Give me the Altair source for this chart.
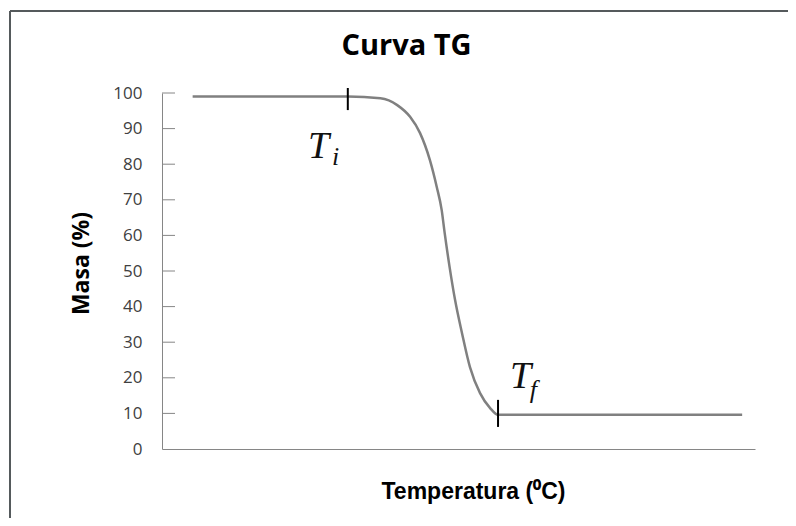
import altair as alt
import pandas as pd

# Curve data (temperature in arbitrary °C units, mass in %)
temp = [31, 188, 221, 238, 251, 261, 271, 278, 283, 286, 291, 296.5, 303.5, 311.6, 321.8, 332, 340, 587]
masa = [99.0, 99.0, 98.5, 96.6, 93.3, 88.8, 81.2, 73.6, 67.1, 60.7, 51.1, 41.9, 32.6, 23.0, 15.7, 11.5, 9.6, 9.6]

# Markers Ti and Tf
mark_temp = [188, 340]
mark_lo = [95.2, 6.2]
mark_hi = [101.4, 13.8]

# Labels
lab_text = ["T", "i", "T", "f"]
lab_temp = [147.7, 172, 352, 372]
lab_masa = [81.7, 79.8, 17.1, 14.3]
lab_size = [38, 26, 38, 26]

y_ticks = [10, 20, 30, 40, 50, 60, 70, 80, 90, 100]
y_labels = list(range(0, 101, 10))

W, H = 593, 356
xs = alt.Scale(domain=[0, 600], nice=False, zero=False)
ys = alt.Scale(domain=[0, 100], nice=False)

df = pd.DataFrame({"temp": temp, "masa": masa})
df_mark = pd.DataFrame({"temp": mark_temp, "masa": mark_lo, "masa2": mark_hi})
df_lab = pd.DataFrame({"temp": lab_temp, "masa": lab_masa, "txt": lab_text, "size": lab_size})
df_ticks = pd.DataFrame({"masa": y_ticks})
one = pd.DataFrame({"a": [0]})

line = alt.Chart(df).mark_line(interpolate="monotone", color="#808080", strokeWidth=2.5).encode(
    x=alt.X("temp:Q", scale=xs, title="Temperatura (⁰C)",
            axis=alt.Axis(labels=False, ticks=False, grid=False, domainColor="#868686",
                          titleFont="Liberation Sans", titleFontSize=23, titleFontWeight="bold",
                          titleColor="#000000", titleX=311, titleY=49, titleBaseline="alphabetic")),
    y=alt.Y("masa:Q", scale=ys, title="Masa (%)",
            axis=alt.Axis(values=y_labels, ticks=False, tickSize=0, grid=False, labelPadding=20,
                          labelOverlap=False, tickCount=11,
                          domainColor="#868686", labelFont="Open Sans", labelFontSize=17,
                          labelColor="#404040", titleFont="Open Sans", titleFontSize=23,
                          titleFontWeight="bold", titleColor="#000000", titleX=-74, titleY=170,
                          titleBaseline="alphabetic")),
)

inner_ticks = alt.Chart(df_ticks).mark_rule(color="#868686", strokeWidth=1).encode(
    x=alt.value(0), x2=alt.value(13), y=alt.Y("masa:Q", scale=ys)
)

markers = alt.Chart(df_mark).mark_rule(color="#000000", strokeWidth=2).encode(
    x=alt.X("temp:Q", scale=xs), y=alt.Y("masa:Q", scale=ys), y2="masa2:Q"
)

labels = alt.Chart(df_lab).mark_text(font="Liberation Serif", fontStyle="italic", align="left",
                                     baseline="alphabetic", color="#111111").encode(
    x=alt.X("temp:Q", scale=xs), y=alt.Y("masa:Q", scale=ys), text="txt:N",
    size=alt.Size("size:Q", scale=None, legend=None)
)

border_top = alt.Chart(one).mark_rule(color="#555a5c", strokeWidth=2).encode(
    x=alt.value(-152), x2=alt.value(640), y=alt.value(-82)
)
border_left = alt.Chart(one).mark_rule(color="#555a5c", strokeWidth=2).encode(
    x=alt.value(-152), y=alt.value(-82), y2=alt.value(430)
)

chart = alt.layer(line, inner_ticks, markers, labels, border_top, border_left).properties(
    width=W, height=H,
    title=alt.TitleParams("Curva TG", font="Open Sans", fontSize=29, fontWeight="bold",
                          color="#000000", dx=-52, offset=-74, baseline="alphabetic"),
    autosize=alt.AutoSizeParams(type="none"),
    padding={"left": 154, "top": 85, "right": 33, "bottom": 69},
    background="white",
).configure_view(stroke=None)

chart.save("out.html", embed_options={"renderer": "svg", "actions": False})
